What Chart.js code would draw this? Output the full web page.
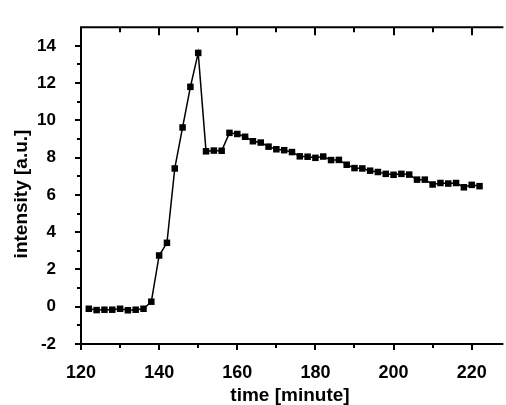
<!DOCTYPE html>
<html>
<head>
<meta charset="utf-8">
<script src="https://cdn.jsdelivr.net/npm/chart.js@4/dist/chart.umd.min.js"></script>
<style>
html,body{margin:0;padding:0;background:#fff;}
#wrap{width:506px;height:405px;position:relative;}
</style>
</head>
<body>
<div id="wrap"><canvas id="c"></canvas></div>
<script>
const times = [122,124,126,128,130,132,134,136,138,140,142,144,146,148,150,152,154,156,158,160,
  162,164,166,168,170,172,174,176,178,180,182,184,186,188,190,192,194,196,198,200,
  202,204,206,208,210,212,214,216,218,220,222];
const intensity = [-0.11,-0.18,-0.16,-0.16,-0.11,-0.19,-0.16,-0.11,0.27,2.75,3.43,7.42,9.62,11.8,13.62,8.34,8.38,8.37,9.33,9.27,
  9.12,8.88,8.81,8.59,8.45,8.40,8.30,8.07,8.05,7.99,8.06,7.87,7.88,7.62,7.44,7.42,7.30,7.23,7.13,7.08,
  7.13,7.09,6.82,6.82,6.56,6.64,6.61,6.64,6.41,6.54,6.47];
const xTicks = [120,140,160,180,200,220];
const xMinorTicks = [130,150,170,190,210];
const yTicks = [-2,0,2,4,6,8,10,12,14];
const yMinorTicks = [-1,1,3,5,7,9,11,13];
const xTitle = 'time [minute]';
const yTitle = 'intensity [a.u.]';

const FONT = '"Liberation Sans", Arial, sans-serif';

const framePlugin = {
  id: 'frame',
  afterDraw(chart) {
    const ctx = chart.ctx;
    const a = chart.chartArea;
    const xs = chart.scales.x, ys = chart.scales.y;
    ctx.save();
    ctx.strokeStyle = '#000';
    ctx.lineWidth = 2;
    ctx.lineCap = 'butt';
    ctx.beginPath();
    ctx.moveTo(a.left, a.top - 1); ctx.lineTo(a.left, a.bottom + 1);
    ctx.moveTo(a.left - 1, a.bottom); ctx.lineTo(a.right + 2, a.bottom);
    ctx.moveTo(a.left - 1, a.top); ctx.lineTo(a.right + 2, a.top);
    ctx.stroke();
    ctx.beginPath();
    yTicks.forEach(v => { const p = Math.round(ys.getPixelForValue(v)); ctx.moveTo(a.left, p); ctx.lineTo(a.left - 6, p); });
    yMinorTicks.forEach(v => { const p = Math.round(ys.getPixelForValue(v)); ctx.moveTo(a.left, p); ctx.lineTo(a.left - 4, p); });
    xTicks.forEach(v => { const p = Math.round(xs.getPixelForValue(v)); ctx.moveTo(p, a.bottom); ctx.lineTo(p, a.bottom + 6); ctx.moveTo(p, a.top); ctx.lineTo(p, a.top + 8); });
    xMinorTicks.forEach(v => { const p = Math.round(xs.getPixelForValue(v)); ctx.moveTo(p, a.bottom); ctx.lineTo(p, a.bottom + 4); ctx.moveTo(p, a.top); ctx.lineTo(p, a.top + 5); });
    ctx.stroke();
    ctx.fillStyle = '#000';
    ctx.font = 'bold 19px ' + FONT;
    ctx.textAlign = 'center';
    ctx.textBaseline = 'middle';
    ctx.fillText(xTitle, 290, 396);
    ctx.translate(22, 194);
    ctx.rotate(-Math.PI / 2);
    ctx.fillText(yTitle, 0, 0);
    ctx.restore();
  }
};

new Chart(document.getElementById('c'), {
  type: 'line',
  data: {
    datasets: [{
      data: times.map((t, i) => ({x: t, y: intensity[i]})),
      borderColor: '#000',
      borderWidth: 1.5,
      backgroundColor: '#000',
      pointStyle: 'rect',
      pointRadius: 4.6,
      pointBorderWidth: 0,
      pointBackgroundColor: '#000',
      tension: 0,
      clip: false
    }]
  },
  options: {
    responsive: true,
    maintainAspectRatio: false,
    animation: false,
    devicePixelRatio: 1,
    layout: {padding: {top: 15, right: 0, left: 0, bottom: 0}},
    plugins: {legend: {display: false}, tooltip: {enabled: false}},
    scales: {
      x: {
        type: 'linear',
        min: 120,
        max: 227.6,
        grid: {display: false},
        border: {display: false},
        afterBuildTicks: s => { s.ticks = xTicks.map(v => ({value: v})); },
        afterFit: s => { s.height = 61; },
        ticks: {color: '#000', padding: 10, maxRotation: 0, autoSkip: false,
          font: {family: FONT, size: 18, weight: 'bold'}}
      },
      y: {
        type: 'linear',
        min: -2,
        max: 15,
        grid: {display: false},
        border: {display: false},
        afterBuildTicks: s => { s.ticks = yTicks.map(v => ({value: v})); },
        afterFit: s => { s.width = 81; },
        ticks: {color: '#000', padding: 17, autoSkip: false,
          font: {family: FONT, size: 17, weight: 'bold'}}
      }
    }
  },
  plugins: [framePlugin]
});
</script>
</body>
</html>
